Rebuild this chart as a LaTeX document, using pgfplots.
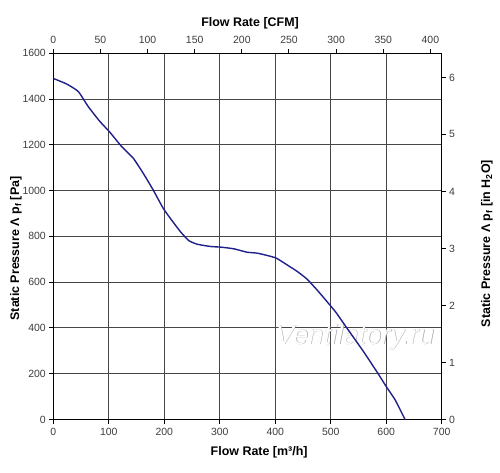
\documentclass[border=0pt]{standalone}
\usepackage{pgfplots}
\pgfplotsset{compat=1.18}
\usepackage{fontspec}
\setmainfont{Liberation Sans}
\definecolor{curve}{RGB}{32,32,140}
\definecolor{gridc}{RGB}{70,70,70}
\definecolor{tickc}{RGB}{60,60,60}
\begin{document}
\begin{tikzpicture}
\path[use as bounding box] (-53.3bp,-53.5bp) rectangle (446.7bp,419.5bp);
\pgfplotsset{common/.style={
  scale only axis, width=388.4bp, height=366.2bp,
  tick align=outside, major tick length=4bp,
  tick style={black, line width=1bp},
  axis line style={black, line width=1.3bp},
  /pgf/number format/assume math mode=true,
  /pgf/number format/1000 sep={},
  tick label style={font=\fontsize{10.5}{12}\selectfont, text=tickc},
  label style={font=\bfseries\fontsize{12.5}{14}\selectfont},
}}
\begin{axis}[common,
  xmin=0, xmax=700, ymin=0, ymax=1600,
  xtick distance=100, ytick distance=200,
  axis x line*=bottom, axis y line*=left,
  grid=major, grid style={gridc, line width=0.9bp},
  xlabel={Flow Rate [m³/h]},
  ylabel={Static Pressure Λ p\textsubscript{f} [Pa]},
  xlabel style={at={(axis description cs:0.53,-0.0989)}, anchor=base},
  ylabel style={at={(axis description cs:-0.096,0.467)}, anchor=center},
  xticklabel style={yshift=-1bp},
]
\node[font=\itshape\fontsize{27.5}{27.5}\selectfont, text=black!35, xshift=0.7bp, yshift=-0.7bp] at (axis cs:543.7,360) {Ventilatory.ru};
\node[font=\itshape\fontsize{27.5}{27.5}\selectfont, text=white] at (axis cs:543.7,360) {Ventilatory.ru};
\addplot[curve, line width=1.4bp, smooth, tension=0.3] coordinates {
(0,1490) (24,1466) (45,1433) (63,1367) (84,1302) (102,1255) (123,1193)
(144,1142) (162,1076) (180,1003) (198,923) (213,872) (229,821) (244,782)
(259,766) (283,756) (302,753) (325,746) (349,731) (367,727) (385,717)
(402,705) (421,676) (439,648) (457,614) (475,567) (493,516) (510,466)
(529,400) (559,297) (586,198) (600,144) (616,86) (634,0)
};
\end{axis}
\begin{axis}[common,
  xmin=0, xmax=412.0, ymin=0, ymax=6.4235,
  xtick distance=50, ytick distance=1,
  axis x line*=top, axis y line*=right,
  xlabel={Flow Rate [CFM]},
  ylabel={Static Pressure Λ p\textsubscript{f} [in H\textsubscript{2}O]},
  xlabel style={at={(axis description cs:0.5065,1.0726)}, anchor=base},
  ylabel style={at={(axis description cs:1.1166,0.4806)}, anchor=center, rotate=0},
  xticklabel style={yshift=2bp},
]
\end{axis}
\end{tikzpicture}
\end{document}
